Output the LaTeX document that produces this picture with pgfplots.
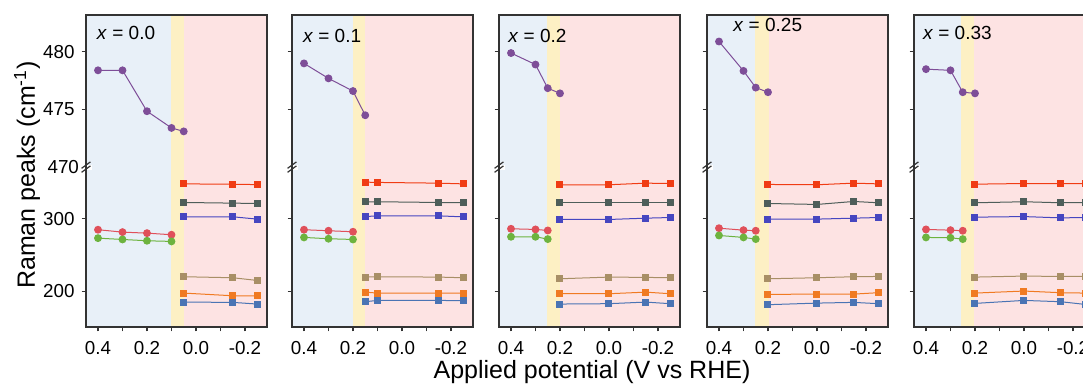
\documentclass[border=0pt]{standalone}
\usepackage{fontspec}
\setmainfont{Liberation Sans}
\usepackage{pgfplots}
\pgfplotsset{compat=1.18}
\definecolor{axisgray}{HTML}{333333}
\definecolor{bgblue}{HTML}{E8F0F8}
\definecolor{bgyellow}{HTML}{FDF0C4}
\definecolor{bgpink}{HTML}{FDE3E3}
\definecolor{cpu}{HTML}{7E4E98}
\definecolor{crd}{HTML}{E0505A}
\definecolor{cgr}{HTML}{6DB33F}
\definecolor{cro}{HTML}{F03C14}
\definecolor{cgy}{HTML}{4E5E5A}
\definecolor{cbp}{HTML}{4646C0}
\definecolor{ctn}{HTML}{A88F66}
\definecolor{cor}{HTML}{F07A22}
\definecolor{csb}{HTML}{4A74B4}
\pgfplotsset{
  panel/.style={
    scale only axis, width=90.5pt, height=156pt, anchor=south west,
    x dir=reverse, xmin=-0.290, xmax=0.449,
    ymin=151, ymax=483.2,
    y coord trafo/.code={\pgfmathparse{##1>400 ? 160+(##1-470)*11.53 : (##1-151)*0.727}},
    xtick={0.4,0.2,0,-0.2}, xticklabels={0.4,0.2,0.0,-0.2},
    minor xtick={0.3,0.1,-0.1},
    ytick={200,300,475,480},
    tick align=outside, xtick pos=bottom, ytick pos=left,
    major tick length=2.2pt, minor tick length=2.2pt,
    every tick/.style={axisgray, line width=0.6pt},
    axis line style={axisgray, line width=0.8pt},
    tick label style={font=\fontsize{9.4}{11}\selectfont, text=black},
    xticklabel style={yshift=-1.5pt},
    axis on top, clip=false,
  },
  circ/.style={mark=*, mark size=1.7pt, line width=0.5pt, mark options={solid}},
  sq/.style={mark=square*, mark size=1.5pt, line width=0.5pt, mark options={solid}},
}
\newcommand{\bg}[2]{%
  \fill[bgblue] ({axis cs:0.449,0}|-{rel axis cs:0,0}) rectangle ({axis cs:#1,0}|-{rel axis cs:0,1});
  \fill[bgyellow] ({axis cs:#1,0}|-{rel axis cs:0,0}) rectangle ({axis cs:#2,0}|-{rel axis cs:0,1});
  \fill[bgpink] ({axis cs:#2,0}|-{rel axis cs:0,0}) rectangle ({axis cs:-0.290,0}|-{rel axis cs:0,1});
}
\newcommand{\brk}{%
  \fill[white] ([shift={(-3pt,-1.2pt)}]rel axis cs:0,0.5125) rectangle ([shift={(3pt,1.2pt)}]rel axis cs:0,0.5125);
  \draw[axisgray, line width=0.6pt] ([shift={(-2.2pt,-2.6pt)}]rel axis cs:0,0.5125) -- ++(4.4pt,3.2pt);
  \draw[axisgray, line width=0.6pt] ([shift={(-2.2pt,-0.6pt)}]rel axis cs:0,0.5125) -- ++(4.4pt,3.2pt);
}
\begin{document}
\begin{tikzpicture}
\useasboundingbox (0,0) rectangle (541.5pt,194pt);
\clip (0,0) rectangle (541.5pt,194pt);
% Panel 1
\begin{axis}[panel, at={(43pt,30.5pt)}, yticklabels={200,300,475,480},
  extra y ticks={470}, extra y tick labels={470}, extra y tick style={major tick length=0pt}]
\bg{0.1}{0.05}
\addplot[circ, cpu] coordinates {(0.4,478.4)(0.3,478.4)(0.2,474.85)(0.1,473.4)(0.05,473.1)};
\addplot[circ, crd] coordinates {(0.4,284.9)(0.3,281.6)(0.2,280.2)(0.1,278.0)};
\addplot[circ, cgr] coordinates {(0.4,273.3)(0.3,271.5)(0.2,269.7)(0.1,268.8)};
\addplot[sq, cro] coordinates {(0.05,348)(-0.15,347.5)(-0.25,347)};
\addplot[sq, cgy] coordinates {(0.05,322.4)(-0.15,321.5)(-0.25,321)};
\addplot[sq, cbp] coordinates {(0.05,302.7)(-0.15,302.7)(-0.25,299.5)};
\addplot[sq, ctn] coordinates {(0.05,220.2)(-0.15,218.8)(-0.25,215.1)};
\addplot[sq, cor] coordinates {(0.05,197.7)(-0.15,194)(-0.25,194)};
\addplot[sq, csb] coordinates {(0.05,185.3)(-0.15,184.9)(-0.25,182.6)};
\brk
\end{axis}
% Panel 2
\begin{axis}[panel, at={(146pt,30.5pt)}, yticklabels={}]
\bg{0.2}{0.15}
\addplot[circ, cpu] coordinates {(0.4,479.0)(0.3,477.7)(0.2,476.6)(0.15,474.5)};
\addplot[circ, crd] coordinates {(0.4,284.9)(0.3,283.5)(0.2,282.1)};
\addplot[circ, cgr] coordinates {(0.4,274.3)(0.3,272.5)(0.2,271.5)};
\addplot[sq, cro] coordinates {(0.15,350.4)(0.1,350)(-0.15,349)(-0.25,348)};
\addplot[sq, cgy] coordinates {(0.15,323.4)(0.1,323.4)(-0.15,322.4)(-0.25,322)};
\addplot[sq, cbp] coordinates {(0.15,303)(0.1,304)(-0.15,304)(-0.25,302.6)};
\addplot[sq, ctn] coordinates {(0.15,219.7)(0.1,220.2)(-0.15,219.7)(-0.25,218.8)};
\addplot[sq, cor] coordinates {(0.15,199)(0.1,197.7)(-0.15,197.7)(-0.25,197.7)};
\addplot[sq, csb] coordinates {(0.15,185.8)(0.1,187.6)(-0.15,187.6)(-0.25,187.2)};
\brk
\end{axis}
% Panel 3
\begin{axis}[panel, at={(249.5pt,30.5pt)}, yticklabels={}]
\bg{0.255}{0.2}
\addplot[circ, cpu] coordinates {(0.4,479.9)(0.3,478.9)(0.25,476.85)(0.2,476.4)};
\addplot[circ, crd] coordinates {(0.4,286.2)(0.3,285.3)(0.25,283.9)};
\addplot[circ, cgr] coordinates {(0.4,275.2)(0.3,275.2)(0.25,272)};
\addplot[sq, cro] coordinates {(0.2,346.8)(0,346.8)(-0.15,349)(-0.25,348.5)};
\addplot[sq, cgy] coordinates {(0.2,322)(0,322)(-0.15,322)(-0.25,322)};
\addplot[sq, cbp] coordinates {(0.2,299)(0,299)(-0.15,300.8)(-0.25,301.7)};
\addplot[sq, ctn] coordinates {(0.2,217.4)(0,219.7)(-0.15,219.3)(-0.25,218.8)};
\addplot[sq, cor] coordinates {(0.2,196.8)(0,196.8)(-0.15,199)(-0.25,196.8)};
\addplot[sq, csb] coordinates {(0.2,182.6)(0,183.1)(-0.15,185.3)(-0.25,183.1)};
\brk
\end{axis}
% Panel 4
\begin{axis}[panel, at={(353.5pt,30.5pt)}, yticklabels={}]
\bg{0.253}{0.197}
\addplot[circ, cpu] coordinates {(0.4,480.9)(0.3,478.35)(0.25,476.9)(0.2,476.5)};
\addplot[circ, crd] coordinates {(0.4,287)(0.3,284.3)(0.25,283.5)};
\addplot[circ, cgr] coordinates {(0.4,277)(0.3,274.3)(0.25,272)};
\addplot[sq, cro] coordinates {(0.2,347.2)(0,346.8)(-0.15,349)(-0.25,348)};
\addplot[sq, cgy] coordinates {(0.2,321)(0,319.7)(-0.15,323.8)(-0.25,322)};
\addplot[sq, cbp] coordinates {(0.2,299.5)(0,299.5)(-0.15,300.8)(-0.25,301.7)};
\addplot[sq, ctn] coordinates {(0.2,217.4)(0,218.8)(-0.15,220.2)(-0.25,220.6)};
\addplot[sq, cor] coordinates {(0.2,195.9)(0,196.3)(-0.15,196.3)(-0.25,198.2)};
\addplot[sq, csb] coordinates {(0.2,181.7)(0,183.9)(-0.15,184.9)(-0.25,183.1)};
\brk
\end{axis}
% Panel 5
\begin{axis}[panel, at={(457pt,30.5pt)}, yticklabels={}]
\bg{0.257}{0.205}
\addplot[circ, cpu] coordinates {(0.4,478.5)(0.3,478.4)(0.25,476.5)(0.2,476.4)};
\addplot[circ, crd] coordinates {(0.4,285.3)(0.3,284.3)(0.25,283.5)};
\addplot[circ, cgr] coordinates {(0.4,274.3)(0.3,273.8)(0.25,272)};
\addplot[sq, cro] coordinates {(0.2,347.6)(0,348.5)(-0.15,348.5)(-0.25,348.5)};
\addplot[sq, cgy] coordinates {(0.2,322)(0,323.4)(-0.15,322)(-0.25,322.4)};
\addplot[sq, cbp] coordinates {(0.2,302.2)(0,303)(-0.15,301.2)(-0.25,301.7)};
\addplot[sq, ctn] coordinates {(0.2,219.7)(0,221.1)(-0.15,220.6)(-0.25,220.6)};
\addplot[sq, cor] coordinates {(0.2,197.7)(0,200.5)(-0.15,198.2)(-0.25,197.7)};
\addplot[sq, csb] coordinates {(0.2,183.5)(0,187.6)(-0.15,185.8)(-0.25,182.1)};
\brk
\end{axis}
% panel labels
\begin{scope}[every node/.style={anchor=west, inner sep=0pt, font=\fontsize{9.5}{11}\selectfont}]
\node at (48.3pt,177.5pt) {\textit{x} = 0.0};
\node at (151.3pt,176pt) {\textit{x} = 0.1};
\node at (254pt,176pt) {\textit{x} = 0.2};
\node at (366.5pt,181.5pt) {\textit{x} = 0.25};
\node at (461.3pt,177.5pt) {\textit{x} = 0.33};
\end{scope}
\node[rotate=90, font=\fontsize{12.5}{15}\selectfont] at (13.5pt,106.5pt) {Raman peaks (cm\textsuperscript{-1})};
\node[font=\fontsize{12.5}{15}\selectfont] at (296pt,8pt) {Applied potential (V vs RHE)};
\end{tikzpicture}
\end{document}
